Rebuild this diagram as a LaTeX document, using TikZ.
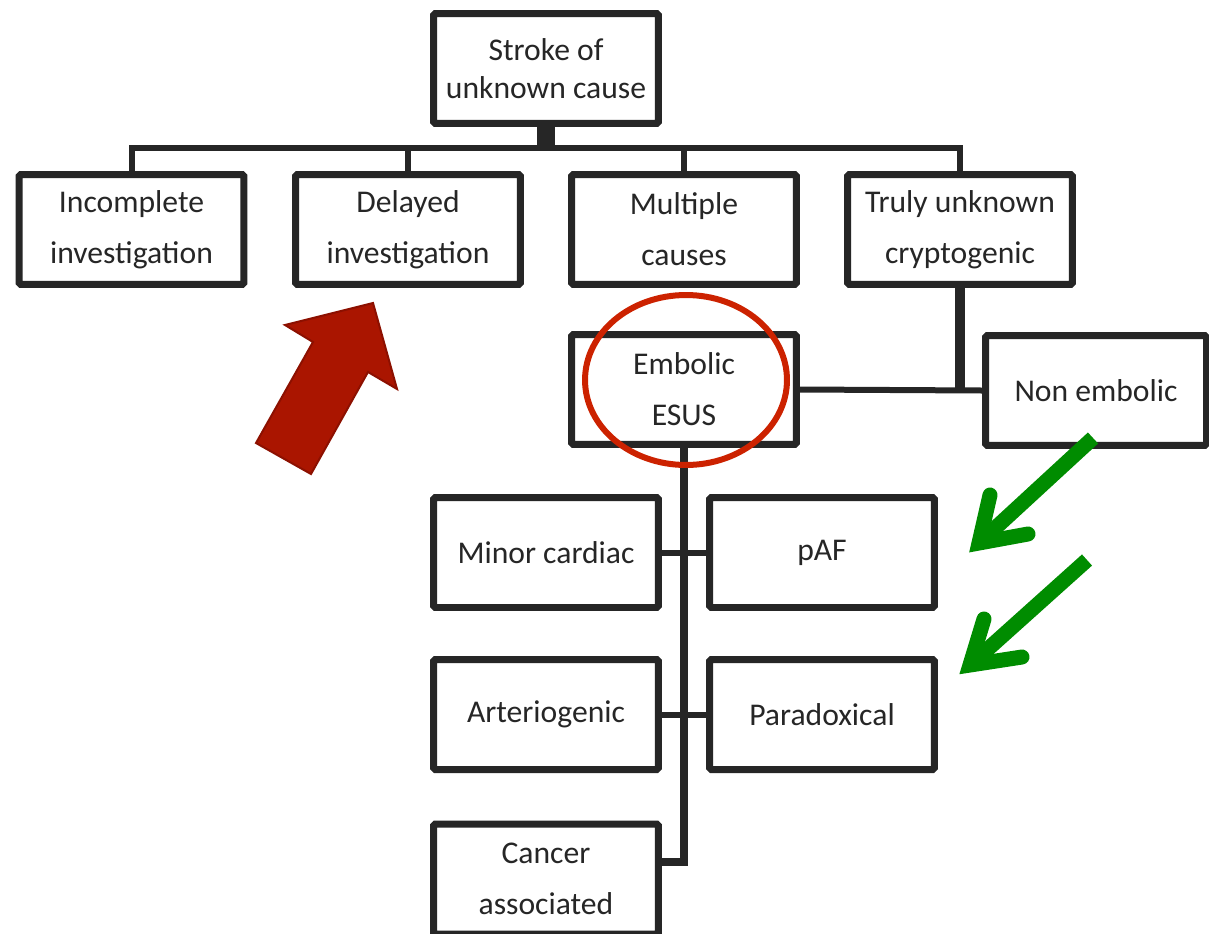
\documentclass[tikz,border=0pt]{standalone}
\usepackage{fontspec}
\setmainfont{Carlito}
\usetikzlibrary{shapes.geometric}
\definecolor{boxgray}{HTML}{262626}
\definecolor{esusred}{RGB}{204,34,0}
\definecolor{arrowred}{RGB}{170,21,0}
\definecolor{arrowedge}{RGB}{140,16,0}
\definecolor{pointgreen}{RGB}{0,140,0}

\begin{document}
\begin{tikzpicture}
		[   x=0.02cm, y=-0.02cm,
		    bnode/.style={draw=boxgray,line width=0.14cm,rounded corners=1pt,fill=white,minimum width=4.5cm,minimum height=2.2cm,inner sep=0pt,align=center,text=boxgray,font=\fontsize{18}{29}\selectfont},
		]
		\tikzset{normal line/.style={draw=boxgray,line width=0.12cm}}
		\tikzset{green arrow/.style={draw=pointgreen,line width=0.3cm}}
		\clip (0,0) rectangle (1209,933);
		
		\node[bnode,font=\fontsize{18}{21.6}\selectfont] (s) at (546,68.5) {Stroke of\\unknown cause};
		
		\node[bnode] (c-1) at (131.5,229.5) {Incomplete\\investigation};
		\node[bnode] (c-2) at (408,229.5) {Delayed\\investigation};
		\node[bnode] (c-3) at (684,229.5) {Multiple\\causes};
		\node[bnode] (c-4) at (960,229.5) {Truly unknown\\cryptogenic};
		
		\node[bnode] (e) at (684,389.5) {Embolic\\ESUS};
		\node[bnode,minimum width=4.42cm] (n) at (1096,390.5) {Non embolic};
		
		\node[bnode] (m-1) at (546,552.5) {Minor cardiac};
		\node[bnode] (m-2) at (822,552.5) {pAF};
		\node[bnode] (m-3) at (546,714.5) {Arteriogenic};
		\node[bnode] (m-4) at (822,714.5) {Paradoxical};
		\node[bnode] (m-5) at (546,879) {Cancer\\associated};
		
		\coordinate (bar) at (546,148);
		
		\path[normal line,line width=0.36cm] (s.south) -- (bar);
		\foreach \x in {1,...,4}
		{   
			\path[normal line] (c-\x.north) |- (bar); 
		}
		
		\path[normal line,line width=0.2cm] (c-4.south) -- (c-4.south |- e.east);
		\path[normal line] (e.east) -- (n.west);
		
		\path[normal line,line width=0.16cm] (e.south) |- ([yshift=0.34cm]m-5.east);
		\path[normal line] (m-1.east) -- (m-2.west);
		\path[normal line] (m-3.east) -- (m-4.west);
		
		% ring round ESUS
		\node[draw=esusred,ellipse,line width=0.12cm,minimum width=4.04cm,minimum height=3.4cm,inner sep=0pt] (ring) at (686,380) {};
		
		% block arrow
		\path[draw=arrowedge,fill=arrowred,line width=0.04cm,line join=miter]
		(373,303) -- (397,389) -- (368,372) -- (311,474) -- (256,443) -- (313,342) -- (285,325) -- cycle;
		
		% green arrows
		\coordinate (g-1) at (1093,438);
		\coordinate (t-1) at (979,543);
		\coordinate (g-2) at (1087,560);
		\coordinate (t-2) at (970,665);
		\path[green arrow] (g-1) -- (t-1);
		\path[green arrow,line cap=round] (990,495) -- (t-1) -- (1028,534);
		\path[green arrow] (g-2) -- (t-2);
		\path[green arrow,line cap=round] (984,619) -- (t-2) -- (1022,657);
		
\end{tikzpicture}
\end{document}
